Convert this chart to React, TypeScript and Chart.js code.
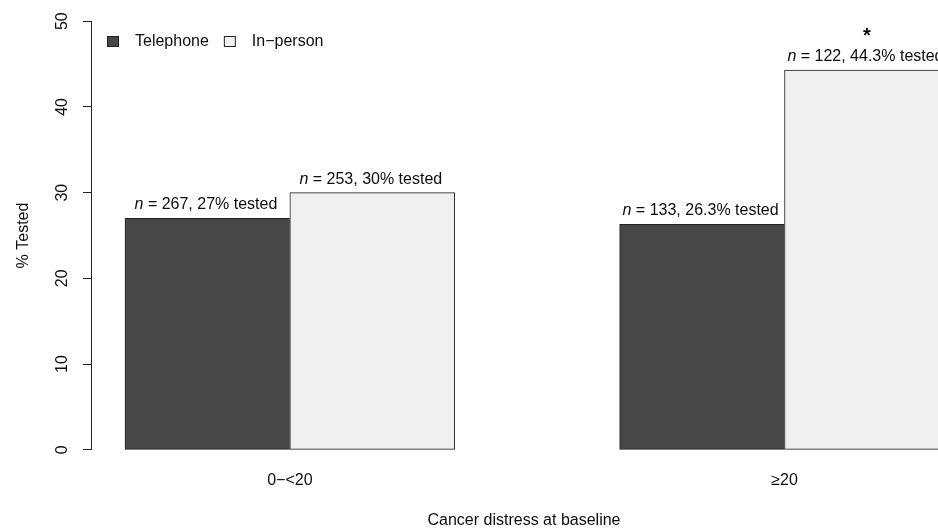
import React, { useEffect, useRef } from 'react';
import { Chart, registerables } from 'chart.js';

Chart.register(...registerables);

// ---- data ----
const categories = ['0−<20', '≥20'];
const seriesLabels = ['Telephone', 'In−person'];
const telephonePct = [27, 26.3];
const inPersonPct = [30, 44.3];
const telephoneN = [267, 133];
const inPersonN = [253, 122];
const telephoneSig = ['', ''];
const inPersonSig = ['', '*'];
const yTicks = [0, 10, 20, 30, 40, 50];
const xTitle = 'Cancer distress at baseline';
const yTitle = '% Tested';

// ---- style ----
const FONT = '"Liberation Sans", Arial, Helvetica, sans-serif';
const TEXT = '#0d0d0d';
const LINE = '#222';
const DARK = '#474747';
const LIGHT = '#f0f0f0';

// bar slots (R barplot with space = c(0, 1)): group i centred at 2 + 3i
const slot = (i: number, s: number) => 2 + 3 * i + (s === 0 ? -0.5 : 0.5);

const rPlugin = {
  id: 'rStyle',
  afterDraw(chart: any) {
    const ctx = chart.ctx as CanvasRenderingContext2D;
    const area = chart.chartArea;
    const yScale = chart.scales.y;
    ctx.save();

    // y axis line from first to last tick (R style)
    const yPix = (v: number) => Math.round(yScale.getPixelForValue(v) - 0.5) + 0.5;
    ctx.strokeStyle = LINE;
    ctx.lineWidth = 1;
    ctx.beginPath();
    ctx.moveTo(area.left - 0.5, yPix(yTicks[0]) + 0.5);
    ctx.lineTo(area.left - 0.5, yPix(yTicks[yTicks.length - 1]) - 0.5);
    ctx.stroke();

    // rotated y tick labels
    ctx.fillStyle = TEXT;
    ctx.font = `16px ${FONT}`;
    ctx.textAlign = 'center';
    ctx.textBaseline = 'middle';
    yTicks.forEach((v) => {
      ctx.save();
      ctx.translate(62.5, yScale.getPixelForValue(v));
      ctx.rotate(-Math.PI / 2);
      ctx.fillText(String(v), 0, 0);
      ctx.restore();
    });

    // legend
    let lx = 107;
    const ly = 36;
    ctx.textAlign = 'left';
    chart.data.datasets.forEach((ds: any) => {
      ctx.fillStyle = ds.backgroundColor;
      ctx.fillRect(lx, ly, 12, 11);
      ctx.strokeStyle = LINE;
      ctx.strokeRect(lx + 0.5, ly + 0.5, 11, 10);
      ctx.fillStyle = TEXT;
      ctx.font = `16px ${FONT}`;
      ctx.fillText(ds.label, lx + 28, ly + 5.5);
      lx += 28 + ctx.measureText(ds.label).width + 15;
    });

    // bar labels: italic n = N, P% tested ; significance marks
    ctx.textBaseline = 'alphabetic';
    chart.data.datasets.forEach((ds: any, d: number) => {
      const meta = chart.getDatasetMeta(d);
      meta.data.forEach((el: any, i: number) => {
        const { x, y } = el.getProps(['x', 'y'], true);
        const head = 'n';
        const rest = ` = ${ds.nCounts[i]}, ${ds.data[i].y}% tested`;
        ctx.font = `italic 16px ${FONT}`;
        const w1 = ctx.measureText(head).width;
        ctx.font = `16px ${FONT}`;
        const w2 = ctx.measureText(rest).width;
        const start = x - (w1 + w2) / 2 - 1.5;
        const base = y - 9;
        ctx.fillStyle = TEXT;
        ctx.textAlign = 'left';
        ctx.font = `italic 16px ${FONT}`;
        ctx.fillText(head, start, base);
        ctx.font = `16px ${FONT}`;
        ctx.fillText(rest, start + w1, base);
        const sig = ds.sig[i];
        if (sig) {
          ctx.textAlign = 'center';
          ctx.font = `bold 20px ${FONT}`;
          ctx.fillText(sig, x, base - 19.5);
        }
      });
    });
    ctx.restore();
  },
};

export default function App() {
  const ref = useRef<HTMLCanvasElement | null>(null);

  useEffect(() => {
    if (!ref.current) return;
    Chart.defaults.font.family = FONT;
    const chart = new Chart(ref.current, {
      type: 'bar',
      data: {
        datasets: [
          {
            label: seriesLabels[0],
            data: categories.map((_, i) => ({ x: slot(i, 0), y: telephonePct[i] })),
            backgroundColor: DARK,
            borderColor: LINE,
            borderWidth: { top: 1, left: 1, bottom: 1, right: 0 },
            borderSkipped: false,
            grouped: false,
            barPercentage: 1,
            categoryPercentage: 1,
            nCounts: telephoneN,
            sig: telephoneSig,
          } as any,
          {
            label: seriesLabels[1],
            data: categories.map((_, i) => ({ x: slot(i, 1), y: inPersonPct[i] })),
            backgroundColor: LIGHT,
            borderColor: LINE,
            borderWidth: 1,
            borderSkipped: false,
            grouped: false,
            barPercentage: 1,
            categoryPercentage: 1,
            nCounts: inPersonN,
            sig: inPersonSig,
          } as any,
        ],
      },
      options: {
        animation: false,
        responsive: false,
        devicePixelRatio: 1,
        layout: { padding: { left: 0, top: 4, right: 14, bottom: 0 } },
        plugins: {
          legend: { display: false },
          tooltip: { enabled: false },
        },
        scales: {
          x: {
            type: 'linear',
            min: 0.8,
            max: 6.04,
            offset: false,
            grid: { display: false, drawTicks: false },
            border: { display: false },
            afterBuildTicks: (scale: any) => {
              scale.ticks = categories.map((_, i) => ({ value: 2 + 3 * i }));
            },
            afterFit: (scale: any) => {
              scale.height = 61;
            },
            ticks: {
              autoSkip: false,
              maxRotation: 0,
              minRotation: 0,
              padding: 4,
              color: TEXT,
              font: { size: 16, family: FONT },
              callback: (_v: any, index: number) => categories[index],
            },
            title: {
              display: true,
              text: xTitle,
              color: TEXT,
              font: { size: 16, family: FONT },
              padding: { top: 0, bottom: -2.5 },
            },
          },
          y: {
            type: 'linear',
            min: -2,
            max: 52,
            grid: {
              display: true,
              drawOnChartArea: false,
              drawTicks: true,
              tickLength: 9,
              color: LINE,
              lineWidth: 1,
            },
            border: { display: false },
            afterBuildTicks: (scale: any) => {
              scale.ticks = yTicks.map((v) => ({ value: v }));
            },
            afterFit: (scale: any) => {
              scale.width = 92;
            },
            ticks: { display: false },
            title: {
              display: true,
              text: yTitle,
              color: TEXT,
              font: { size: 16, family: FONT },
              padding: { top: 13.7, bottom: 0 },
            },
          },
        },
      } as any,
      plugins: [rPlugin],
    });
    return () => chart.destroy();
  }, []);

  return (
    <div
      style={{
        position: 'fixed',
        left: 0,
        top: 0,
        width: 938,
        height: 528,
        overflow: 'hidden',
        background: '#fff',
      }}
    >
      <canvas ref={ref} width={970} height={528} style={{ display: 'block' }} />
    </div>
  );
}
